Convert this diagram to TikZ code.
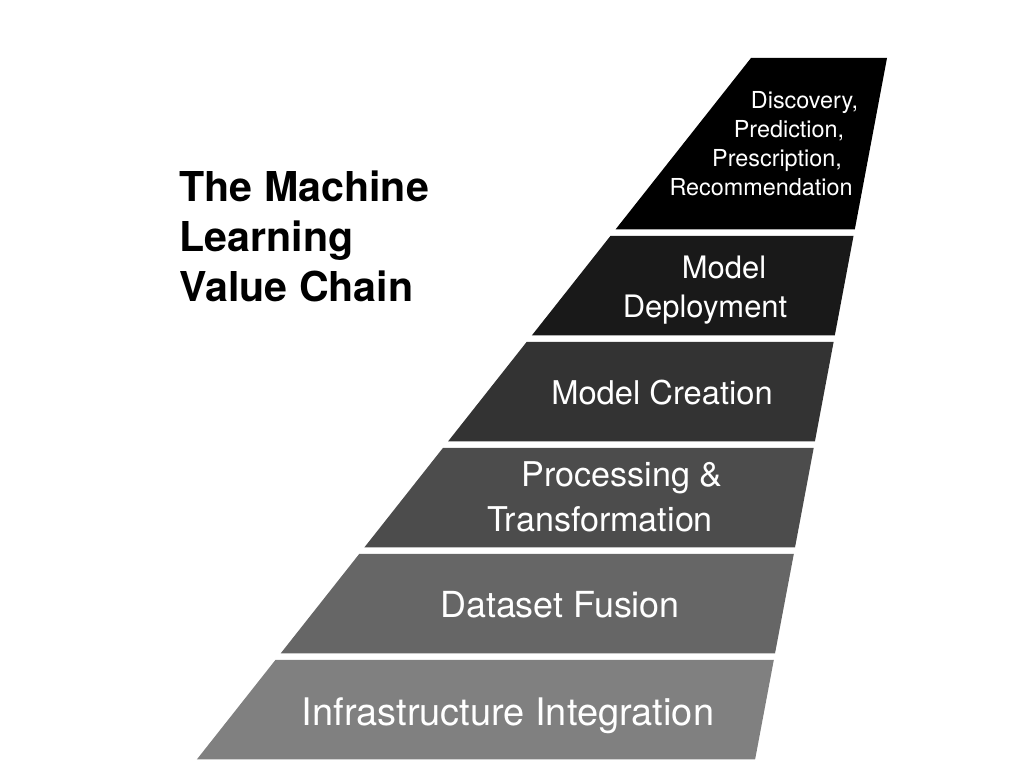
\documentclass[tikz,border=0pt]{standalone}
\usepackage{fontspec}
\setmainfont{TeX Gyre Heros}

\begin{document}
\begin{tikzpicture}[x=0.01cm, y=-0.01cm,
    bandtext/.style={text=white, anchor=base, inner sep=0pt},
    titletext/.style={anchor=base west, inner sep=0pt, font=\bfseries\fontsize{11.7}{14}\selectfont}]
        \useasboundingbox (0,0) rectangle (1024,768);

        % The slanted bands, from the top down
        \fill[black]    (751,58) -- (887,58) -- (854.8,229.5) -- (615.5,229.5) -- cycle;
        \fill[black!90] (610.4,236) -- (853.5,236) -- (834.8,335.5) -- (531.8,335.5) -- cycle;
        \fill[black!80] (526.6,342) -- (833.6,342) -- (814.9,441.5) -- (448,441.5) -- cycle;
        \fill[black!70] (442.9,448) -- (813.7,448) -- (795,547.5) -- (364.3,547.5) -- cycle;
        \fill[black!60] (359.2,554) -- (793.8,554) -- (775,653.5) -- (280.6,653.5) -- cycle;
        \fill[black!50] (275.4,660) -- (773.8,660) -- (755.1,759.5) -- (196.8,759.5) -- cycle;

        % Title
        \node[titletext] (title1) at (179,202) {The Machine};
        \node[titletext] (title2) at (179,252) {Learning};
        \node[titletext] (title3) at (179,302) {Value Chain};

        % Top band
        \node[bandtext, font=\fontsize{6.65}{8}\selectfont] (disc) at (804.5,109) {Discovery,};
        \node[bandtext, font=\fontsize{6.65}{8}\selectfont] (pred) at (789,138) {Prediction,};
        \node[bandtext, font=\fontsize{6.65}{8}\selectfont] (presc) at (777,167) {Prescription,};
        \node[bandtext, font=\fontsize{6.65}{8}\selectfont] (recom) at (761,196) {Recommendation};

        % Deployment
        \node[bandtext, font=\fontsize{8.8}{10}\selectfont] (model) at (724,279) {Model};
        \node[bandtext, font=\fontsize{8.8}{10}\selectfont] (deploy) at (705,318) {Deployment};

        % Creation
        \node[bandtext, font=\fontsize{9.3}{11}\selectfont] (create) at (662,405) {Model Creation};

        % Processing
        \node[bandtext, font=\fontsize{9.7}{11}\selectfont] (proc) at (622,487) {Processing \&};
        \node[bandtext, font=\fontsize{9.7}{11}\selectfont] (trans) at (600,532) {Transformation};

        % Fusion and infrastructure
        \node[bandtext, font=\fontsize{10.2}{12}\selectfont] (fusion) at (560,618) {Dataset Fusion};
        \node[bandtext, font=\fontsize{10.8}{13}\selectfont] (infra) at (508,726) {Infrastructure Integration};
\end{tikzpicture}
\end{document}
